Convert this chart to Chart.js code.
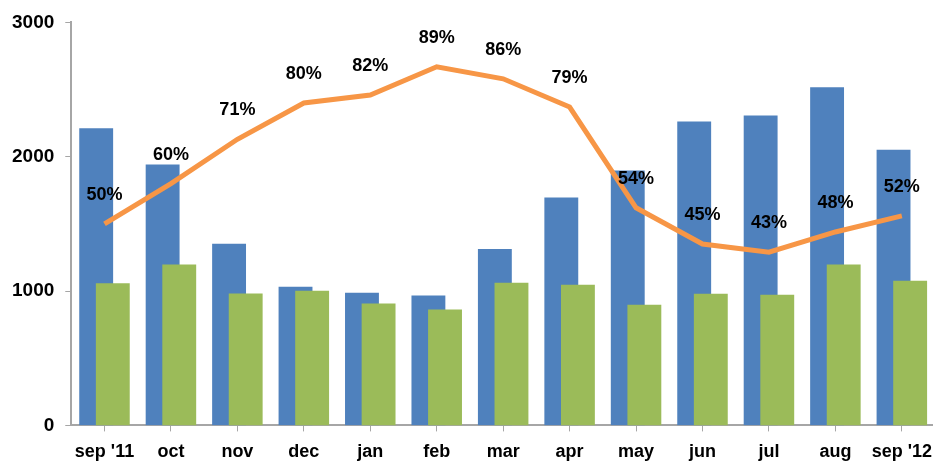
<!DOCTYPE html>
<html>
<head>
<meta charset="utf-8">
<script src="https://cdn.jsdelivr.net/npm/chart.js@4"></script>
<style>
  html, body { margin: 0; padding: 0; background: #fff; overflow: hidden; }
  #wrap { width: 942px; height: 462px; }
</style>
</head>
<body>
<div id="wrap"><canvas id="chart"></canvas></div>
<script>
const months = ["sep '11", "oct", "nov", "dec", "jan", "feb", "mar", "apr", "may", "jun", "jul", "aug", "sep '12"];
const blueValues = [2210, 1940, 1350, 1030, 985, 965, 1310, 1695, 1895, 2260, 2305, 2515, 2050];
const greenValues = [1055, 1195, 980, 1000, 905, 860, 1060, 1045, 895, 978, 970, 1195, 1075];
const percentValues = [50, 60, 71, 80, 82, 89, 86, 79, 54, 45, 43, 48, 52];
const yTicks = [0, 1000, 2000, 3000];

// green bars must sit over the blue ones and the line over both:
// hold them back from the normal pass and draw them afterwards
const LINE = 0, GREEN = 2;
const layering = {
  id: 'layering',
  beforeDatasetDraw(chart, args) {
    if (args.index === LINE || args.index === GREEN) return false;
  },
  afterDatasetsDraw(chart) {
    chart.getDatasetMeta(GREEN).controller.draw();
    const line = chart.getDatasetMeta(LINE);
    line.controller.draw();

    const ctx = chart.ctx;
    ctx.save();
    ctx.font = 'bold 18px "Liberation Sans", Arial, sans-serif';
    ctx.fillStyle = '#000';
    ctx.textAlign = 'center';
    ctx.textBaseline = 'middle';
    line.data.forEach((pt, i) => {
      ctx.fillText(percentValues[i] + '%', pt.x, pt.y - 29);
    });
    ctx.restore();
  }
};

new Chart(document.getElementById('chart').getContext('2d'), {
  type: 'bar',
  data: {
    labels: months,
    datasets: [{
      type: 'line',
      data: percentValues,
      yAxisID: 'y2',
      borderColor: '#F79646',
      borderWidth: 5,
      pointRadius: 0,
      tension: 0,
      fill: false
    }, {
      data: blueValues,
      backgroundColor: '#4F81BD',
      barPercentage: 2,
      categoryPercentage: 0.5
    }, {
      data: greenValues,
      backgroundColor: '#9BBB59',
      barPercentage: 2,
      categoryPercentage: 0.5
    }]
  },
  options: {
    responsive: true,
    maintainAspectRatio: false,
    animation: false,
    layout: { padding: { top: 16, right: 0, left: 1, bottom: -11 } },
    plugins: { legend: { display: false }, tooltip: { enabled: false } },
    scales: {
      x: {
        offset: true,
        grid: { display: true, drawOnChartArea: false, offset: false, color: '#A6A6A6', tickLength: 6 },
        border: { color: '#A6A6A6', width: 2 },
        ticks: {
          color: '#000',
          padding: 10,
          autoSkip: false,
          maxRotation: 0,
          font: { family: '"Liberation Sans", Arial, sans-serif', weight: 'bold', size: 18 }
        }
      },
      y: {
        min: 0,
        max: 3000,
        afterBuildTicks(axis) { axis.ticks = yTicks.map(v => ({ value: v })); },
        grid: { display: true, drawOnChartArea: false, color: '#A6A6A6', tickLength: 6 },
        border: { color: '#A6A6A6', width: 2 },
        ticks: {
          color: '#000',
          padding: 11,
          callback: v => String(v),
          font: { family: '"Liberation Sans", Arial, sans-serif', weight: 'bold', size: 19 }
        }
      },
      y2: {
        display: false,
        min: 0,
        max: 100
      }
    }
  },
  plugins: [layering]
});
</script>
</body>
</html>
